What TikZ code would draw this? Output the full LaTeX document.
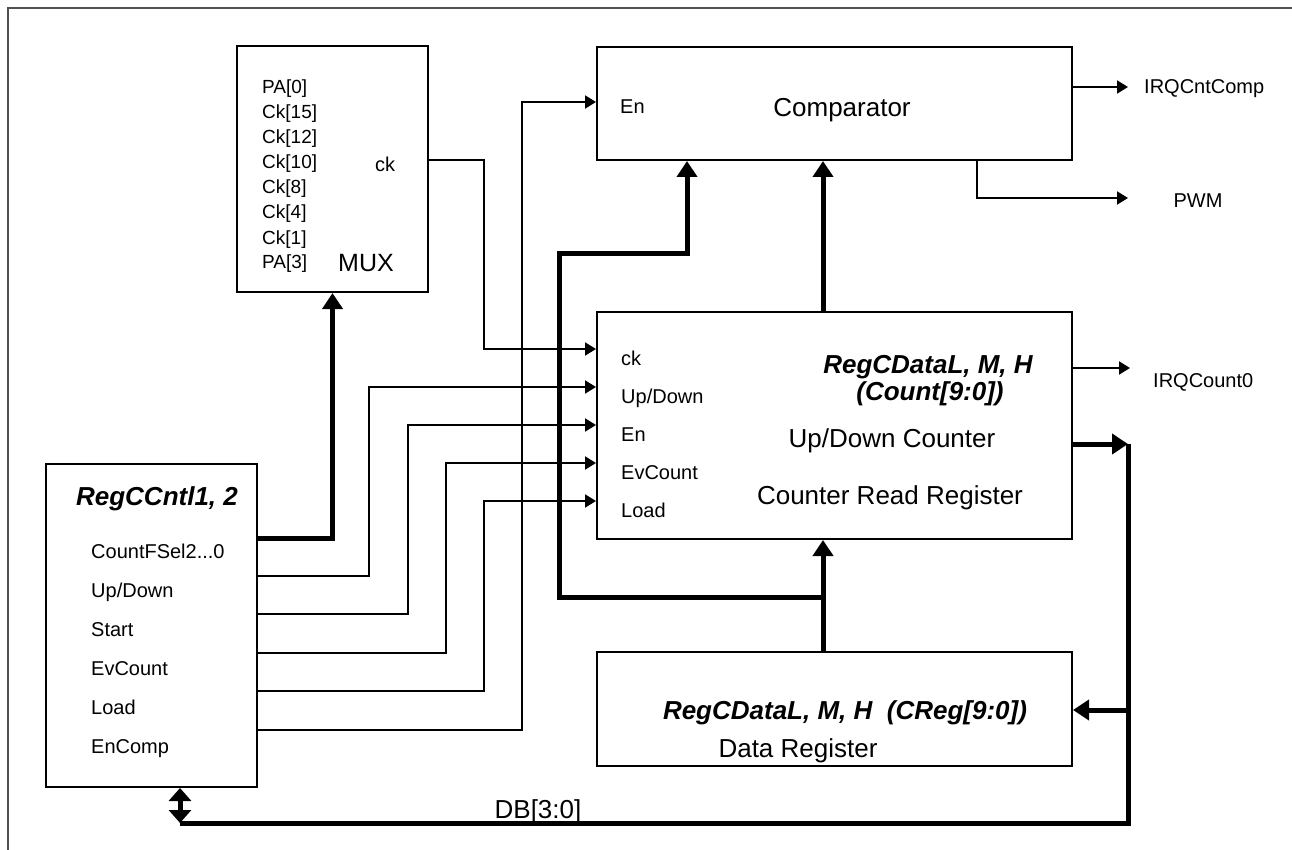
\documentclass[tikz,border=0pt]{standalone}
\usepackage{fontspec}
\setmainfont{Liberation Sans}
\usepackage{tikz}
\usetikzlibrary{arrows.meta,calc}
\definecolor{ink}{RGB}{0,0,0}
\definecolor{framegray}{RGB}{80,80,80}
\tikzset{
  blk/.style={draw=ink, line width=2pt, inner sep=0pt},
  wire/.style={line width=2pt, draw=ink},
  sig/.style={wire, -{Triangle[length=11pt,width=13pt]}},
  bus/.style={line width=5pt, draw=ink},
  busar/.style={bus, -{Triangle[length=16pt,width=20pt]}},
  pin/.style={font=\fontsize{20}{24}\selectfont, text=ink, inner sep=0pt, anchor=base west},
  muxpin/.style={font=\fontsize{19}{25}\selectfont, text=ink, inner sep=0pt, anchor=base west},
  title/.style={font=\fontsize{26}{30}\selectfont, text=ink, inner sep=0pt, anchor=base},
  regname/.style={font=\fontsize{26}{30}\selectfont\bfseries\itshape, text=ink, inner sep=0pt, anchor=base},
}

\begin{document}
\begin{tikzpicture}[x=1pt,y=-1pt]
  \useasboundingbox (0,0) rectangle (1292,850);
  \draw[framegray, line width=1.5pt] (8,850) -- (8,8) -- (1292,8);
  % blocks
  \node[blk, minimum width=191pt, minimum height=246pt] (mux) at (332.5,169) {};
  \node[blk, minimum width=475pt, minimum height=113pt] (cmp) at (834.5,103.5) {};
  \node[blk, minimum width=475pt, minimum height=227pt] (cnt) at (834.5,425.5) {};
  \node[blk, minimum width=475pt, minimum height=114pt] (dreg) at (834.5,709) {};
  \node[blk, minimum width=211pt, minimum height=323pt] (ctl) at (151.5,625.5) {};
  % texts
  \foreach \t [count=\i from 0] in {PA[0],Ck[15],Ck[12],Ck[10],Ck[8],Ck[4],Ck[1],PA[3]}
    \node[muxpin] (l-mux\i) at (262,{94+25*\i}) {\t};
  \node[pin] (l-muxck) at (375,172) {ck};
  \node[pin, font=\fontsize{25}{30}\selectfont] (l-mux) at (338,272) {MUX};
  \node[pin] (l-cen) at (620,114) {En};
  \node[title] (l-cmp) at (842,117) {Comparator};
  \node[pin] (l-irqc) at (1144,94) {IRQCntComp};
  \node[pin, anchor=base] (l-pwm) at (1198,208) {PWM};
  \foreach \t [count=\i from 0] in {ck,Up/Down,En,EvCount,Load}
    \node[pin] (l-cnt\i) at (621,{365+38*\i}) {\t};
  \node[regname] (l-cdata) at (928,373) {RegCDataL, M, H};
  \node[regname] (l-count) at (930,400) {(Count[9:0])};
  \node[title] (l-udc) at (892,447) {Up/Down Counter};
  \node[title] (l-crr) at (890,504) {Counter Read Register};
  \node[pin] (l-irq0) at (1153,387) {IRQCount0};
  \node[regname] (l-creg) at (845,719) {RegCDataL, M, H\ \ (CReg[9:0])};
  \node[title] (l-dreg) at (798,757) {Data Register};
  \node[regname] (l-ctl) at (157,505) {RegCCntl1, 2};
  \node[pin] (l-ctl0) at (91,558) {CountFSel2...0};
  \foreach \t [count=\i] in {Up/Down,Start,EvCount,Load,EnComp}
    \node[pin] (l-ctl\i) at (91,{558+39*\i}) {\t};
  \node[title] (l-db) at (538,818) {DB[3:0]};
  % pins
  \coordinate (p-muxck) at (mux.east |- 0,160);
  \coordinate (p-cen) at (cmp.west |- 0,102);
  \foreach \n/\y in {ck/349,ud/387,en/425,ev/463,ld/501}
    \coordinate (p-\n) at (cnt.west |- 0,\y);
  \foreach \n/\y in {fs/538,ud/576,st/614,ev/653,ld/691,ec/730}
    \coordinate (c-\n) at (ctl.east |- 0,\y);
  \coordinate (o-irqc) at (1128,87);
  \coordinate (o-pwm) at (1128,198);
  \coordinate (o-irq0) at (1130,368);
  \coordinate (j-dat) at (823,597);
  \coordinate (rb-in) at (1128,444);
  \coordinate (rb-dr) at (1128,710);
  \coordinate (rb-bot) at (1128,823);
  \coordinate (db-end) at (180,823);
  % control lines
  \draw[busar] (c-fs) -| (mux.south);
  \foreach \a/\b/\x in {ud/ud/369,st/en/408,ev/ev/446,ld/ld/484}
    \draw[sig] (c-\a) -| (p-\b -| \x,0) -- (p-\b);
  \draw[sig] (c-ec) -| (p-cen -| 522,0) -- (p-cen);
  \draw[sig] (p-muxck) -| (p-ck -| 484,0) -- (p-ck);
  % outputs
  \draw[sig] (cmp.east |- o-irqc) -- (o-irqc);
  \draw[sig] (cmp.south -| 977,0) |- (o-pwm);
  \draw[sig] (cnt.east |- o-irq0) -- (o-irq0);
  % data buses
  \draw[busar] (cnt.north -| 823,0) -- (cmp.south -| 823,0);
  \draw[busar] (dreg.north -| 823,0) -- (cnt.south -| 823,0);
  \draw[busar] (j-dat) -| (559,254) -| (cmp.south -| 687,0);
  \draw[busar] (cnt.east |- rb-in) -- (rb-in);
  \draw[bus] (rb-in) -- (rb-bot) -- (db-end);
  \draw[busar] (rb-dr) -- (dreg.east |- rb-dr);
  \draw[bus, {Triangle[length=13pt,width=22pt]}-{Triangle[length=13pt,width=22pt]}] (ctl.south -| db-end) -- (db-end);
\end{tikzpicture}
\end{document}
